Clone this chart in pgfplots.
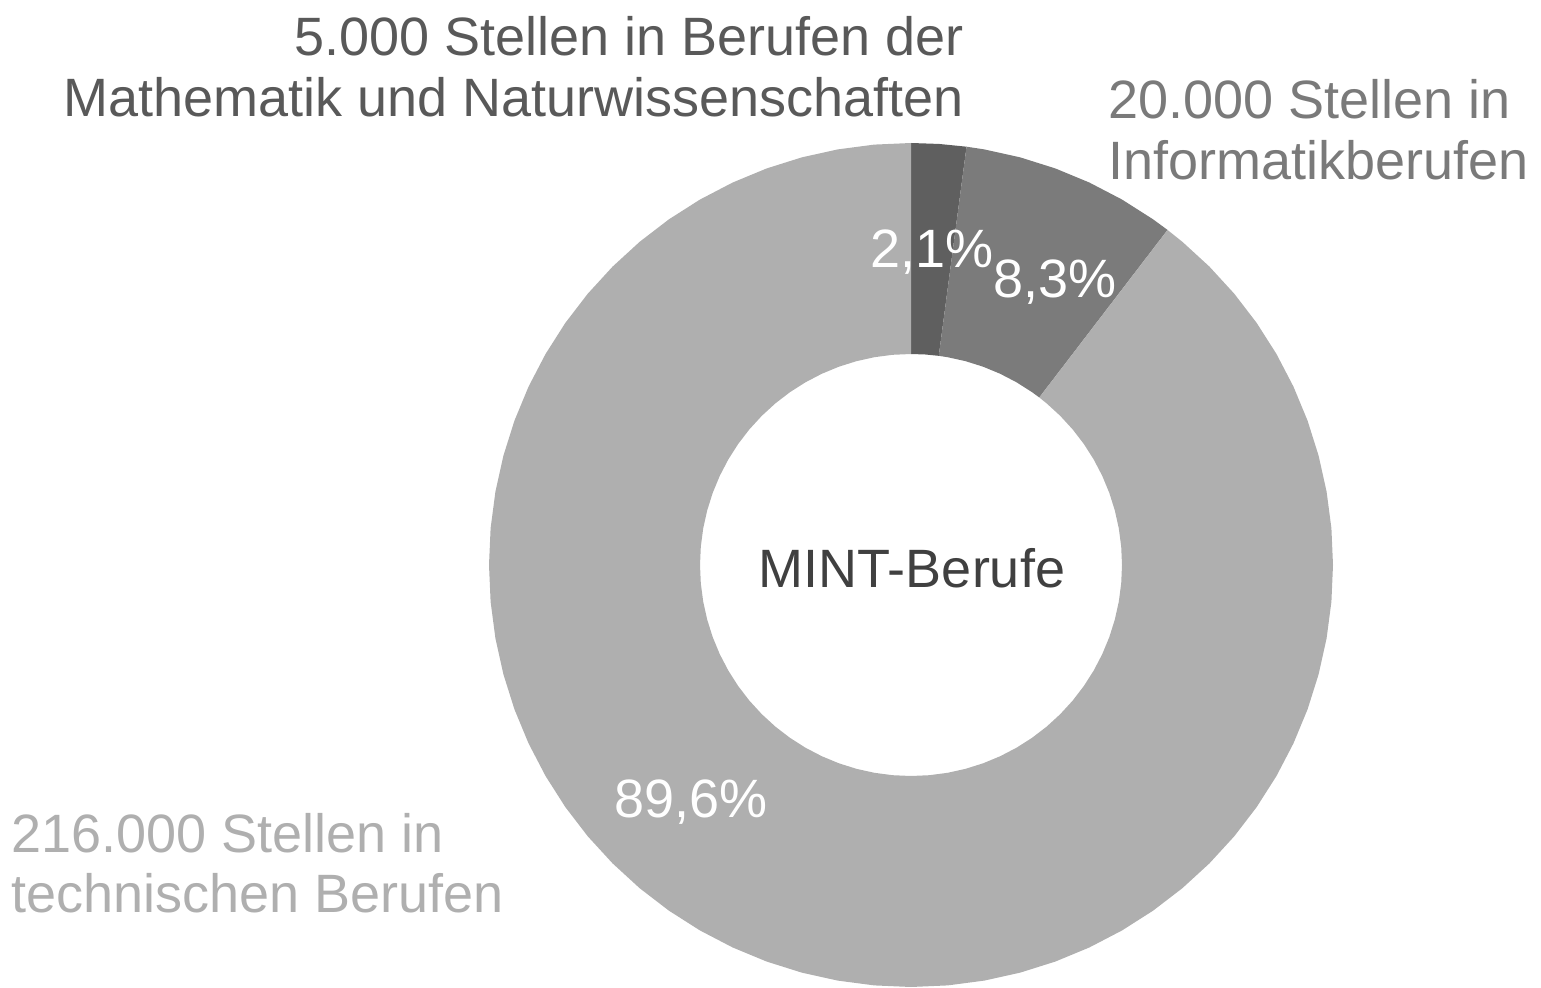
\documentclass[border=0pt]{standalone}
\usepackage{fontspec}
\setmainfont{Liberation Sans}
\usepackage{pgfplots}
\pgfplotsset{compat=1.18}
\usepgfplotslibrary{polar}
\definecolor{segA}{HTML}{5F5F5F}
\definecolor{segB}{HTML}{7B7B7B}
\definecolor{segC}{HTML}{AFAFAF}
\definecolor{txtA}{HTML}{595959}
\definecolor{txtB}{HTML}{7A7A7A}
\definecolor{txtC}{HTML}{AFAFAF}
\definecolor{txtM}{HTML}{404040}
\tikzset{lbl/.style={inner sep=0pt, outer sep=0pt, font=\fontsize{27}{31}\selectfont}}
\begin{document}
\begin{tikzpicture}
\begin{axis}[
  x=0.5pt, y=0.5pt,
  xmin=-911, xmax=630, ymin=-422, ymax=565,
  hide axis, clip=false,
]
\path (axis cs:-911,-422) rectangle (axis cs:630,565);
% Segment 1: 5.000 (2,1%)  angles 90 -> 82.44
\addplot[fill=segA, draw=none, data cs=polar] coordinates {
 (90,422) (86.22,422) (82.44,422)
 (82.44,211) (86.22,211) (90,211)
};
% Segment 2: 20.000 (8,3%)  angles 82.44 -> 52.56
\addplot[fill=segB, draw=none, data cs=polar] coordinates {
 (82.44,422) (80,422) (75,422) (70,422) (65,422) (60,422) (55,422) (52.56,422)
 (52.56,211) (55,211) (60,211) (65,211) (70,211) (75,211) (80,211) (82.44,211)
};
% Segment 3: 216.000 (89,6%)  angles 52.56 -> -270
\addplot[fill=segC, draw=none, data cs=polar] coordinates {
 (52.56,422) (50,422) (45,422) (40,422) (35,422) (30,422) (25,422) (20,422) (15,422) (10,422) (5,422)
 (0,422) (-5,422) (-10,422) (-15,422) (-20,422) (-25,422) (-30,422) (-35,422) (-40,422) (-45,422)
 (-50,422) (-55,422) (-60,422) (-65,422) (-70,422) (-75,422) (-80,422) (-85,422) (-90,422) (-95,422)
 (-100,422) (-105,422) (-110,422) (-115,422) (-120,422) (-125,422) (-130,422) (-135,422) (-140,422) (-145,422)
 (-150,422) (-155,422) (-160,422) (-165,422) (-170,422) (-175,422) (-180,422) (-185,422) (-190,422) (-195,422)
 (-200,422) (-205,422) (-210,422) (-215,422) (-220,422) (-225,422) (-230,422) (-235,422) (-240,422) (-245,422)
 (-250,422) (-255,422) (-260,422) (-265,422) (-270,422)
 (-270,211) (-265,211) (-260,211) (-255,211) (-250,211)
 (-245,211) (-240,211) (-235,211) (-230,211) (-225,211) (-220,211) (-215,211) (-210,211) (-205,211) (-200,211)
 (-195,211) (-190,211) (-185,211) (-180,211) (-175,211) (-170,211) (-165,211) (-160,211) (-155,211) (-150,211)
 (-145,211) (-140,211) (-135,211) (-130,211) (-125,211) (-120,211) (-115,211) (-110,211) (-105,211) (-100,211)
 (-95,211) (-90,211) (-85,211) (-80,211) (-75,211) (-70,211) (-65,211) (-60,211) (-55,211) (-50,211)
 (-45,211) (-40,211) (-35,211) (-30,211) (-25,211) (-20,211) (-15,211) (-10,211) (-5,211) (0,211)
 (5,211) (10,211) (15,211) (20,211) (25,211) (30,211) (35,211) (40,211) (45,211) (50,211) (52.56,211)
};
% Category labels
\node[lbl, anchor=base east, text=txtA] at (axis cs:53,509) {5.000 Stellen in Berufen der};
\node[lbl, anchor=base east, text=txtA] at (axis cs:53,448) {Mathematik und Naturwissenschaften};
\node[lbl, anchor=base west, text=txtB] at (axis cs:197,446) {20.000 Stellen in};
\node[lbl, anchor=base west, text=txtB] at (axis cs:197,385) {Informatikberufen};
\node[lbl, anchor=base west, text=txtC] at (axis cs:-900,-287) {216.000 Stellen in};
\node[lbl, anchor=base west, text=txtC] at (axis cs:-900,-347) {technischen Berufen};
% Centre label
\node[lbl, anchor=base, text=txtM] at (axis cs:1,-22) {MINT-Berufe};
% Percentages
\node[lbl, anchor=base west, text=white] at (axis cs:-41,297) {2,1\%};
\node[lbl, anchor=base west, text=white] at (axis cs:82,267) {8,3\%};
\node[lbl, anchor=base west, text=white] at (axis cs:-297,-252) {89,6\%};
\end{axis}
\end{tikzpicture}
\end{document}
